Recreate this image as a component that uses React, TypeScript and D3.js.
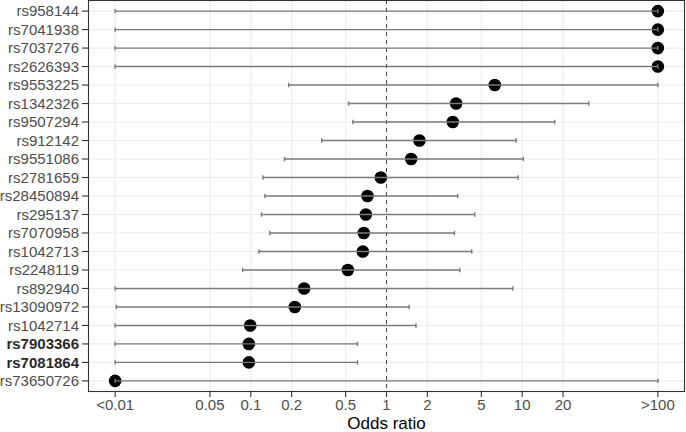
import React from "react";
import * as d3 from "d3";

const snps = [
  "rs958144", "rs7041938", "rs7037276", "rs2626393", "rs9553225", "rs1342326",
  "rs9507294", "rs912142", "rs9551086", "rs2781659", "rs28450894", "rs295137",
  "rs7070958", "rs1042713", "rs2248119", "rs892940", "rs13090972", "rs1042714",
  "rs7903366", "rs7081864", "rs73650726",
];
const oddsRatio = [100, 100, 100, 100, 6.28, 3.26, 3.08, 1.75, 1.52, 0.908, 0.724, 0.704, 0.68, 0.669, 0.519, 0.247, 0.211, 0.099, 0.0967, 0.0967, 0.01];
const lowerCI = [0.01, 0.01, 0.01, 0.01, 0.19, 0.525, 0.565, 0.333, 0.177, 0.123, 0.127, 0.12, 0.138, 0.115, 0.087, 0.01, 0.0102, 0.01, 0.01, 0.01, 0.01];
const upperCI = [100, 100, 100, 100, 100, 31, 17.4, 9.03, 10.2, 9.34, 3.35, 4.47, 3.17, 4.25, 3.47, 8.53, 1.47, 1.65, 0.611, 0.611, 100];
const boldSnps = ["rs7903366", "rs7081864"];
const tickValues = [0.01, 0.05, 0.1, 0.2, 0.5, 1, 2, 5, 10, 20, 100];
const tickLabels = ["<0.01", "0.05", "0.1", "0.2", "0.5", "1", "2", "5", "10", "20", ">100"];

const W = 686, H = 432;
const left = 88, right = 685, top = 0, bottom = 392;
const FONT = "'Liberation Sans', Arial, sans-serif";

export default function App() {
  const x = d3.scaleLog().domain([Math.pow(10, -2.2), Math.pow(10, 2.2)]).range([left, right]);
  const y = d3.scalePoint<string>().domain(snps).range([top, bottom]).padding(0.6);

  return (
    <svg width={W} height={H} style={{ position: "absolute", left: 0, top: 0, background: "#fff" }}>
      <rect x={left} y={top} width={right - left} height={bottom - top} fill="#fff" />
      {tickValues.map((t, i) => (
        <line key={"gx" + i} x1={x(t)} x2={x(t)} y1={top} y2={bottom} stroke="#ebebeb" strokeWidth={1.1} />
      ))}
      {snps.map((s) => (
        <line key={"gy" + s} x1={left} x2={right} y1={y(s)} y2={y(s)} stroke="#ebebeb" strokeWidth={1.1} />
      ))}
      <line x1={x(1)} x2={x(1)} y1={top} y2={bottom} stroke="#444" strokeWidth={1} strokeDasharray="4,4" />
      {snps.map((s, i) => (
        <circle key={"pt" + s} cx={x(oddsRatio[i])} cy={y(s)} r={6.3} fill="#000" />
      ))}
      {snps.map((s, i) => {
        const yy = y(s) as number;
        const x1 = x(lowerCI[i]);
        const x2 = x(upperCI[i]);
        return (
          <g key={"eb" + s} stroke="#7a7a7a" strokeWidth={1.4}>
            <line x1={x1} x2={x2} y1={yy} y2={yy} />
            <line x1={x1} x2={x1} y1={yy - 2.2} y2={yy + 2.2} />
            <line x1={x2} x2={x2} y1={yy - 2.2} y2={yy + 2.2} />
          </g>
        );
      })}
      <rect x={left + 0.5} y={top + 0.5} width={right - left - 1} height={bottom - top - 1} fill="none" stroke="#333" strokeWidth={1.1} />
      {snps.map((s) => {
        const bold = boldSnps.includes(s);
        return (
          <g key={"yl" + s}>
            <line x1={left - 6} x2={left} y1={y(s)} y2={y(s)} stroke="#333" strokeWidth={1.1} />
            <text x={left - 9} y={(y(s) as number) + 5.3} textAnchor="end" fontFamily={FONT} fontSize={15}
              fill={bold ? "#2a2a2a" : "#4d4d4d"} fontWeight={bold ? "bold" : "normal"}>{s}</text>
          </g>
        );
      })}
      {tickValues.map((t, i) => (
        <g key={"xl" + i}>
          <line x1={x(t)} x2={x(t)} y1={bottom} y2={bottom + 5} stroke="#333" strokeWidth={1.1} />
          <text x={x(t)} y={bottom + 18} textAnchor="middle" fontFamily={FONT} fontSize={15} fill="#4d4d4d">{tickLabels[i]}</text>
        </g>
      ))}
      <text x={(left + right) / 2} y={429} textAnchor="middle" fontFamily={FONT} fontSize={17} fill="#000">Odds ratio</text>
    </svg>
  );
}
